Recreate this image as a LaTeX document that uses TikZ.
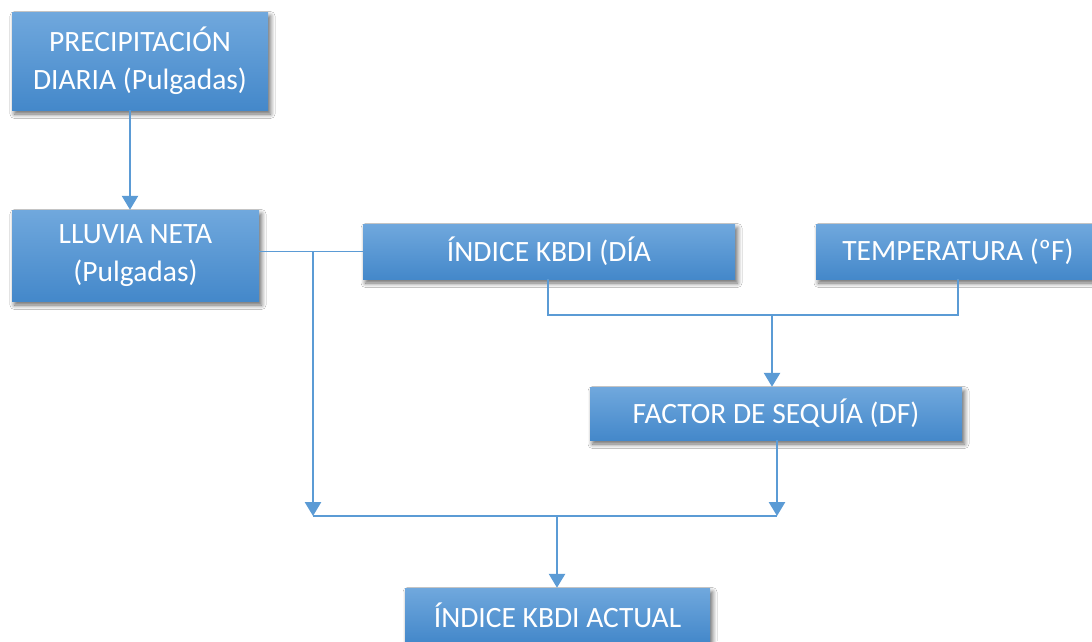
\documentclass[tikz,border=0pt]{standalone}
\usepackage{fontspec}
\setmainfont{Carlito}
\usetikzlibrary{arrows.meta,shadows.blur}
\definecolor{boxtop}{RGB}{112,168,221}
\definecolor{boxbot}{RGB}{68,136,202}
\definecolor{linkblue}{RGB}{91,155,213}
\tikzset{
  flowbox/.style={rectangle, top color=boxtop, bottom color=boxbot, draw=none,
    text=white, align=center, inner sep=0pt,
    font=\fontsize{29.5}{38}\selectfont,
    blur shadow={shadow xshift=2.5pt, shadow yshift=-4pt, shadow blur radius=4.5pt,
      shadow blur steps=8, shadow opacity=60}},
  joinline/.style={draw=linkblue, line width=1.8pt},
  flowarrow/.style={draw=linkblue, line width=2.6pt,
    -{Triangle[width=16pt,length=14pt]}}
}
\begin{document}
\begin{tikzpicture}[x=1pt,y=-1pt]
\clip (0,0) rectangle (1092,641);
\fill[white] (0,0) rectangle (1092,641);

% boxes
\node[flowbox, minimum width=256pt, minimum height=98pt] (precip) at (140,61)
  {PRECIPITACIÓN\\DIARIA (Pulgadas)};
\node[flowbox, minimum width=247pt, minimum height=91pt] (lluvia) at (135.5,255.5)
  {LLUVIA NETA\\(Pulgadas)};
\node[flowbox, minimum width=372pt, minimum height=55pt] (kbdi) at (549,251.5)
  {ÍNDICE KBDI (DÍA};
\node[flowbox, minimum width=284pt, minimum height=55pt] (temp) at (958,251.5)
  {TEMPERATURA (ºF)};
\node[flowbox, minimum width=372pt, minimum height=53pt] (factor) at (776,413.5)
  {FACTOR DE SEQUÍA (DF)};
\node[flowbox, minimum width=305pt, minimum height=54pt] (actual) at (557.5,615)
  {ÍNDICE KBDI ACTUAL};

% junction points
\coordinate (left) at (313,252);
\coordinate (top) at (772,315);
\coordinate (mergeL) at (313,516);
\coordinate (mergeR) at (777,516);
\coordinate (mergeC) at (557,516);

% connectors
\draw[flowarrow] (precip.south -| 130,0) -- (lluvia.north -| 130,0);
\draw[joinline] (lluvia.east |- kbdi.west) -- (kbdi.west);
\draw[flowarrow] (left) -- (mergeL);
\draw[joinline] (kbdi.south -| 548,0) |- (top) -| (temp.south);
\draw[flowarrow] (top) -- (top |- factor.north);
\draw[flowarrow] (factor.south -| mergeR) -- (mergeR);
\draw[joinline] (mergeL) -- (mergeR);
\draw[flowarrow] (mergeC) -- (mergeC |- actual.north);
\end{tikzpicture}
\end{document}
